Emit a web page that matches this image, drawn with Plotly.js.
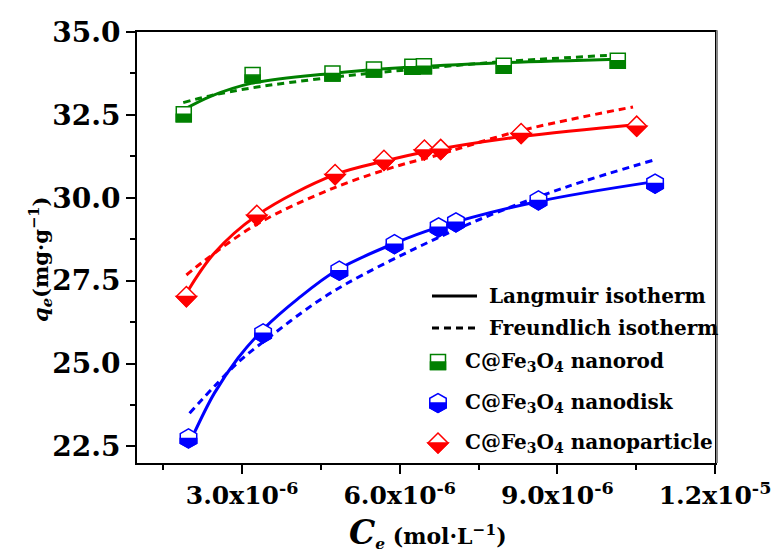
<!DOCTYPE html>
<html>
<head>
<meta charset="utf-8">
<script src="https://cdn.plot.ly/plotly-3.0.1.min.js"></script>
<style>html,body{margin:0;padding:0;background:#fff;}#chart{width:771px;height:556px;}</style>
</head>
<body>
<div id="chart"></div>
<script>
// ---------- data ----------
// experimental points (Ce in mol/L, qe in mg/g)
const xRod  = [1.89e-6, 3.20e-6, 4.72e-6, 5.51e-6, 6.24e-6, 6.46e-6, 7.98e-6, 10.15e-6];
const yRod  = [32.52, 33.70, 33.75, 33.87, 33.95, 33.97, 33.98, 34.13];
const xDisk = [1.98e-6, 3.40e-6, 4.85e-6, 5.90e-6, 6.74e-6, 7.07e-6, 8.64e-6, 10.86e-6];
const yDisk = [22.74, 25.91, 27.80, 28.60, 29.11, 29.26, 29.92, 30.43];
const xPart = [1.94e-6, 3.28e-6, 4.77e-6, 5.70e-6, 6.47e-6, 6.78e-6, 8.31e-6, 10.51e-6];
const yPart = [27.02, 29.47, 30.70, 31.13, 31.44, 31.46, 31.94, 32.16];

// fitted curves
const rodLangX  = [1.88e-6, 2.4e-6, 3.17e-6, 4.69e-6, 6.02e-6, 7.92e-6, 10.15e-6];
const rodLangY  = [32.65, 33.06, 33.45, 33.75, 33.92, 34.07, 34.18];
const rodFreuX  = [1.88e-6, 2.4e-6, 3.17e-6, 4.69e-6, 6.02e-6, 7.92e-6, 10.15e-6];
const rodFreuY  = [32.87, 33.08, 33.31, 33.63, 33.84, 34.10, 34.31];
const partLangX = [1.94e-6, 2.47e-6, 3.30e-6, 4.75e-6, 5.69e-6, 6.59e-6, 8.29e-6, 10.57e-6];
const partLangY = [27.12, 28.33, 29.49, 30.69, 31.10, 31.42, 31.84, 32.22];
const partFreuX = [1.94e-6, 2.28e-6, 3.30e-6, 4.75e-6, 6.02e-6, 6.59e-6, 8.29e-6, 10.44e-6];
const partFreuY = [27.67, 28.10, 29.22, 30.30, 30.99, 31.23, 32.02, 32.74];
const diskLangX = [2.07e-6, 2.47e-6, 2.92e-6, 3.42e-6, 4.06e-6, 4.81e-6, 5.89e-6, 6.71e-6, 8.61e-6, 10.82e-6];
const diskLangY = [22.84, 24.10, 25.16, 26.06, 26.95, 27.82, 28.62, 29.10, 29.88, 30.48];
const diskFreuX = [2.0e-6, 2.92e-6, 3.49e-6, 4.37e-6, 5.0e-6, 6.27e-6, 7.54e-6, 9.18e-6, 10.82e-6];
const diskFreuY = [23.50, 25.03, 25.76, 26.80, 27.42, 28.45, 29.36, 30.33, 31.13];

// tick labels
const xTickVals = [3e-6, 6e-6, 9e-6, 1.2e-5];
const xTickText = ['3.0x10<sup>-6</sup>', '6.0x10<sup>-6</sup>', '9.0x10<sup>-6</sup>', '1.2x10<sup>-5</sup>'];
const xMinorVals = [1.5e-6, 4.5e-6, 7.5e-6, 10.5e-6];
const legendNames = ['Langmuir isotherm', 'Freundlich isotherm',
  'C@Fe<sub>3</sub>O<sub>4</sub> nanorod', 'C@Fe<sub>3</sub>O<sub>4</sub> nanodisk', 'C@Fe<sub>3</sub>O<sub>4</sub> nanoparticle'];

// ---------- styling ----------
const GREEN = '#008000', BLUE = '#0000ff', RED = '#ff0000';
const FONT = 'DejaVu Serif';
const L = 137, T = 32, W = 578, H = 431;
const px2x = p => (p - L) / W;
const py2y = p => (T + H - p) / H;

// marker geometry (pixels, y up)
const SYM = {
  square:  {full: 'M-7.5,-7.5 H7.5 V7.5 H-7.5 Z', half: 'M-7.5,0 H7.5 V-7.5 H-7.5 Z', size: 15},
  hexagon: {full: 'M8.23,-4.75 V4.75 L0,9.5 L-8.23,4.75 V-4.75 L0,-9.5 Z', half: 'M-8.23,0 V-4.75 L0,-9.5 L8.23,-4.75 V0 Z', size: 19},
  diamond: {full: 'M0,10 L10,0 L0,-10 L-10,0 Z', half: 'M-10,0 L10,0 L0,-10 Z', size: 15.4}
};

function fitLine(x, y, color, dash) {
  return {x: x, y: y, mode: 'lines', type: 'scatter', showlegend: false, hoverinfo: 'skip',
          line: {color: color, width: 3, dash: dash || 'solid', shape: 'spline'}};
}
function pts(x, y, color, sym) {
  return {x: x, y: y, mode: 'markers', type: 'scatter', showlegend: false,
          marker: {symbol: sym, size: SYM[sym].size, color: '#ffffff', line: {color: color, width: 1.5}}};
}
const shapes = [];
function halfFill(x, y, color, sym) {
  for (let i = 0; i < x.length; i++) {
    shapes.push({type: 'path', xref: 'x', yref: 'y', xsizemode: 'pixel', ysizemode: 'pixel',
      xanchor: x[i], yanchor: y[i], path: SYM[sym].half, fillcolor: color,
      line: {color: color, width: 1.5}, layer: 'above'});
  }
}
halfFill(xRod, yRod, GREEN, 'square');
halfFill(xDisk, yDisk, BLUE, 'hexagon');
halfFill(xPart, yPart, RED, 'diamond');

const data = [
  fitLine(rodLangX, rodLangY, GREEN), fitLine(rodFreuX, rodFreuY, GREEN, '7px,5px'),
  fitLine(partLangX, partLangY, RED), fitLine(partFreuX, partFreuY, RED, '7px,5px'),
  fitLine(diskLangX, diskLangY, BLUE), fitLine(diskFreuX, diskFreuY, BLUE, '7px,5px'),
  pts(xRod, yRod, GREEN, 'square'), pts(xDisk, yDisk, BLUE, 'hexagon'), pts(xPart, yPart, RED, 'diamond')
];

// ---------- legend (drawn manually) ----------
const legRowsY = [296, 328, 362, 403, 443];
shapes.push({type: 'line', xref: 'paper', yref: 'paper', x0: px2x(432), x1: px2x(477),
  y0: py2y(legRowsY[0]), y1: py2y(legRowsY[0]), line: {color: '#000', width: 3}});
shapes.push({type: 'line', xref: 'paper', yref: 'paper', x0: px2x(432), x1: px2x(477),
  y0: py2y(legRowsY[1]), y1: py2y(legRowsY[1]), line: {color: '#000', width: 3, dash: '7px,5px'}});
[['square', GREEN], ['hexagon', BLUE], ['diamond', RED]].forEach(function (s, k) {
  const base = {type: 'path', xref: 'paper', yref: 'paper', xsizemode: 'pixel', ysizemode: 'pixel',
    xanchor: px2x(438), yanchor: py2y(legRowsY[k + 2])};
  shapes.push(Object.assign({}, base, {path: SYM[s[0]].full, fillcolor: '#fff', line: {color: s[1], width: 1.5}}));
  shapes.push(Object.assign({}, base, {path: SYM[s[0]].half, fillcolor: s[1], line: {color: s[1], width: 1.5}}));
});
// shadow of the right frame edge
shapes.push({type: 'line', xref: 'paper', yref: 'paper', x0: px2x(717), x1: px2x(717), y0: 0, y1: 1.004,
  line: {color: '#888', width: 2}});

const annFont = {family: FONT, size: 20, color: '#000', weight: 'bold'};
const annotations = [];
legendNames.forEach(function (name, k) {
  annotations.push({xref: 'paper', yref: 'paper', x: px2x(k < 2 ? 487 : 463), y: py2y(legRowsY[k]),
    xanchor: 'left', yanchor: 'middle', text: name, showarrow: false, font: annFont});
});
// axis titles
annotations.push({xref: 'paper', yref: 'paper', x: px2x(40), y: py2y(260), xanchor: 'center', yanchor: 'middle',
  textangle: -90, showarrow: false, text: '<i>q</i><sub><i>e</i></sub>(mg·g<sup>−1</sup>)',
  font: {family: FONT, size: 21, color: '#000', weight: 'bold'}});
annotations.push({xref: 'paper', yref: 'paper', x: px2x(428), y: py2y(555), xanchor: 'center', yanchor: 'bottom',
  showarrow: false, text: '<span style="font-size:33px"><i>C</i></span><sub><i>e</i></sub> (mol·L<sup>−1</sup>)',
  font: {family: FONT, size: 22, color: '#000', weight: 'bold'}});

const layout = {
  width: 771, height: 556,
  margin: {l: L, r: 771 - L - W, t: T, b: 556 - T - H, pad: 0},
  paper_bgcolor: '#fff', plot_bgcolor: '#fff',
  showlegend: false,
  xaxis: {range: [0.99999e-6, 1.20001e-5], tickmode: 'array', tickvals: xTickVals, ticktext: xTickText,
    ticks: 'outside', ticklen: 9, tickwidth: 2, tickcolor: '#000', ticklabeloverflow: 'allow',
    showline: true, linewidth: 2, linecolor: '#000', mirror: true, showgrid: false, zeroline: false,
    tickfont: {family: FONT, size: 25, color: '#000', weight: 'bold'},
    minor: {tickmode: 'array', tickvals: xMinorVals, ticks: 'outside', ticklen: 5, tickwidth: 2, tickcolor: '#000', showgrid: false}},
  yaxis: {range: [22, 35.0001], tick0: 22.5, dtick: 2.5, tickformat: '.1f',
    ticks: 'outside', ticklen: 9, tickwidth: 2, tickcolor: '#000', ticklabeloverflow: 'allow',
    showline: true, linewidth: 2, linecolor: '#000', mirror: true, showgrid: false, zeroline: false,
    tickfont: {family: FONT, size: 28, color: '#000', weight: 'bold'},
    minor: {tick0: 22.5, dtick: 1.25, ticks: 'outside', ticklen: 5, tickwidth: 2, tickcolor: '#000', showgrid: false}},
  shapes: shapes,
  annotations: annotations
};
Plotly.newPlot('chart', data, layout, {staticPlot: true, displayModeBar: false});
</script>
</body>
</html>
